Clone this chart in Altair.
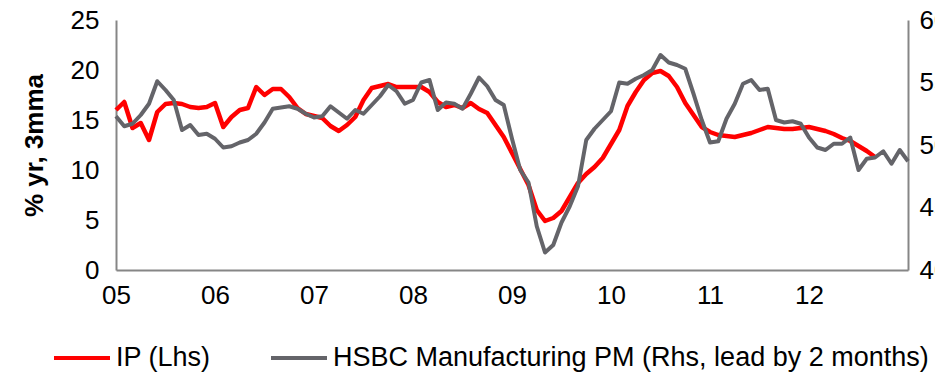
import altair as alt
import pandas as pd

# Year tick labels, one per January from 2005
year_labels = ["05", "06", "07", "08", "09", "10", "11", "12"]

# Industrial production, % yr 3mma, monthly from Jan 2005 (left axis)
ip_values = [
    16.0, 16.8, 14.2, 14.7, 13.0, 15.8, 16.6, 16.7, 16.6, 16.3, 16.2, 16.3,
    16.7, 14.3, 15.3, 16.0, 16.2, 18.3, 17.5, 18.1, 18.1, 17.3, 16.2, 15.6,
    15.4, 15.2, 14.4, 13.9, 14.5, 15.3, 17.0, 18.2, 18.4, 18.6, 18.3, 18.3,
    18.3, 18.3, 17.8, 16.8, 16.3, 16.5, 16.2, 16.7, 16.1, 15.7, 14.5, 13.3,
    11.7, 10.1, 8.5, 6.0, 4.9, 5.2, 5.9, 7.3, 8.7, 9.6, 10.3, 11.2,
    12.6, 14.0, 16.4, 17.8, 19.0, 19.7, 19.9, 19.4, 18.3, 16.7, 15.5, 14.3,
    13.8, 13.5, 13.4, 13.3, 13.5, 13.7, 14.0, 14.3, 14.2, 14.1, 14.1, 14.2,
    14.3, 14.1, 13.9, 13.6, 13.2, 12.9, 12.4, 11.9, 11.3,
]

# HSBC manufacturing PMI, shifted forward 2 months (right axis)
pmi_values = [
    52.3, 51.5, 51.7, 52.4, 53.3, 55.1, 54.4, 53.6, 51.2, 51.6, 50.8, 50.9,
    50.5, 49.8, 49.9, 50.2, 50.4, 50.9, 51.8, 52.9, 53.0, 53.1, 52.9, 52.5,
    52.2, 52.3, 53.1, 52.6, 52.1, 52.8, 52.5, 53.2, 53.9, 54.8, 54.3, 53.3,
    53.6, 55.0, 55.2, 52.8, 53.4, 53.3, 52.9, 54.1, 55.4, 54.7, 53.6, 53.2,
    50.5, 48.0, 47.0, 43.5, 41.4, 42.0, 43.8, 45.1, 46.7, 50.4, 51.3, 52.0,
    52.7, 55.0, 54.9, 55.3, 55.6, 56.0, 57.2, 56.6, 56.4, 56.1, 54.1, 52.0,
    50.2, 50.3, 52.1, 53.3, 54.9, 55.2, 54.4, 54.5, 52.0, 51.8, 51.9, 51.7,
    50.6, 49.8, 49.6, 50.1, 50.1, 50.6, 48.0, 48.9, 49.0, 49.5, 48.5, 49.6,
    48.7,
]

series_names = ["IP (Lhs)", "HSBC Manufacturing PM (Rhs, lead by 2 months)"]
series_colors = ["#ff0000", "#646469"]

FONT = "Liberation Sans"
AXIS_GREY = "#868686"

ip_df = pd.DataFrame({
    "month": list(range(len(ip_values))),
    "value": ip_values,
    "series": series_names[0],
})
pmi_df = pd.DataFrame({
    "month": list(range(len(pmi_values))),
    "value": pmi_values,
    "series": series_names[1],
})

label_expr = "[" + ",".join(f"'{s}'" for s in year_labels) + "][datum.value / 12]"

x_enc = alt.X(
    "month:Q",
    scale=alt.Scale(domain=[0, 96], nice=False, zero=False),
    axis=alt.Axis(
        values=[12 * i for i in range(len(year_labels))],
        labelExpr=label_expr,
        labelFlush=False,
        title=None,
        grid=False,
        ticks=False,
        domainColor=AXIS_GREY,
        domainWidth=2,
        labelPadding=12,
        labelFontSize=26,
        labelColor="black",
        labelFont=FONT,
    ),
)

color_enc = alt.Color(
    "series:N",
    scale=alt.Scale(domain=series_names, range=series_colors),
    legend=alt.Legend(
        title=None,
        orient="none",
        legendX=-64,
        legendY=308,
        direction="horizontal",
        symbolType="stroke",
        symbolSize=3136,
        symbolStrokeWidth=4,
        labelFontSize=27,
        labelFont=FONT,
        labelColor="black",
        labelLimit=1000,
        labelOffset=4,
        columnPadding=52,
        padding=0,
    ),
)

ip_line = alt.Chart(ip_df).mark_line(strokeWidth=4.5, strokeJoin="round").encode(
    x=x_enc,
    y=alt.Y(
        "value:Q",
        scale=alt.Scale(domain=[0, 25], nice=False),
        axis=alt.Axis(
            values=[0, 5, 10, 15, 20, 25],
            title="% yr, 3mma",
            titleFontSize=26,
            titleFontWeight="bold",
            titleFont=FONT,
            titleColor="black",
            titlePadding=23,
            grid=False,
            ticks=False,
            domainColor=AXIS_GREY,
            domainWidth=2,
            labelPadding=17,
            labelFontSize=26,
            labelFont=FONT,
            labelColor="black",
        ),
    ),
    color=color_enc,
)

pmi_line = alt.Chart(pmi_df).mark_line(strokeWidth=4, strokeJoin="round").encode(
    x=x_enc,
    y=alt.Y(
        "value:Q",
        scale=alt.Scale(domain=[40, 60], nice=False, zero=False),
        axis=alt.Axis(
            orient="right",
            values=[40, 45, 50, 55, 60],
            title=None,
            grid=False,
            ticks=False,
            domainColor=AXIS_GREY,
            domainWidth=2,
            labelPadding=11,
            labelFontSize=26,
            labelFont=FONT,
            labelColor="black",
        ),
    ),
    color=color_enc,
)

chart = (
    alt.layer(ip_line, pmi_line)
    .resolve_scale(y="independent")
    .properties(
        width=792,
        height=250,
        autosize=alt.AutoSizeParams(type="none"),
        padding={"left": 116, "top": 20, "right": 27, "bottom": 104},
        background="white",
    )
    .configure_view(stroke=None)
)

chart.save("out.html", embed_options={"renderer": "svg", "actions": False})
